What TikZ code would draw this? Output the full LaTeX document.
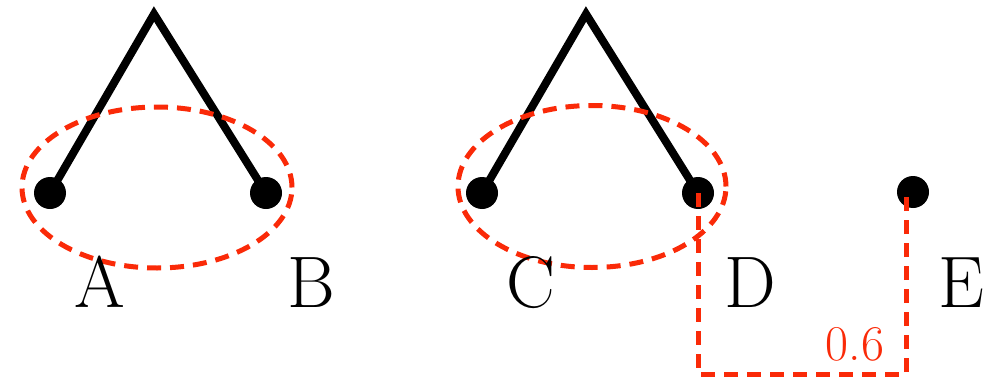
\documentclass[tikz,border=0pt]{standalone}
\usetikzlibrary{shapes.geometric}
\definecolor{dred}{RGB}{250,42,8}
\begin{document}
\begin{tikzpicture}[x=1pt,y=-1pt,
  branch/.style={line width=8pt,line join=miter,line cap=butt},
  leaf/.style={circle,fill=black,inner sep=0pt,minimum size=32pt},
  grp/.style={draw=dred,line width=5pt,dash pattern=on 14pt off 9pt},
  lbl/.style={anchor=base,font=\fontsize{73}{78}\selectfont,inner sep=0pt},
  dist/.style={draw=dred,line width=5pt,dash pattern=on 14pt off 9pt},
  dlbl/.style={text=dred,font=\fontsize{50}{54}\selectfont,inner sep=0pt}]
\useasboundingbox (0,0) rectangle (988,380);
% left tree
\coordinate (r1) at (154,14);
\node[leaf] (A) at (50,193) {};
\node[leaf] (B) at (266,193) {};
\draw[branch] (A.center) -- (r1) -- (B.center);
\node[grp,ellipse,minimum width=270pt,minimum height=161pt,inner sep=0pt] (e1) at (157,187.5) {};
\node[lbl] (la) at (100,307) {A};
\node[lbl] (lb) at (311,307) {B};
% right tree
\coordinate (r2) at (586,14);
\node[leaf] (C) at (482,193) {};
\node[leaf] (D) at (698,193) {};
\node[leaf] (E) at (913,192) {};
\draw[branch] (C.center) -- (r2) -- (D.center);
\node[grp,ellipse,minimum width=268pt,minimum height=162pt,inner sep=0pt] (e2) at (592,186.5) {};
\node[lbl] (lc) at (531,307) {C};
\node[lbl] (ld) at (750,307) {D};
\node[lbl] (le) at (961,307) {E};
% distance
\coordinate (b1) at (698,374);
\coordinate (b2) at (906,374);
\draw[dist] (D.center) -- (b1) -- (b2) -- (E.center -| b2);
\node[dlbl] (d) at (855,344) {0.6};
\end{tikzpicture}
\end{document}
